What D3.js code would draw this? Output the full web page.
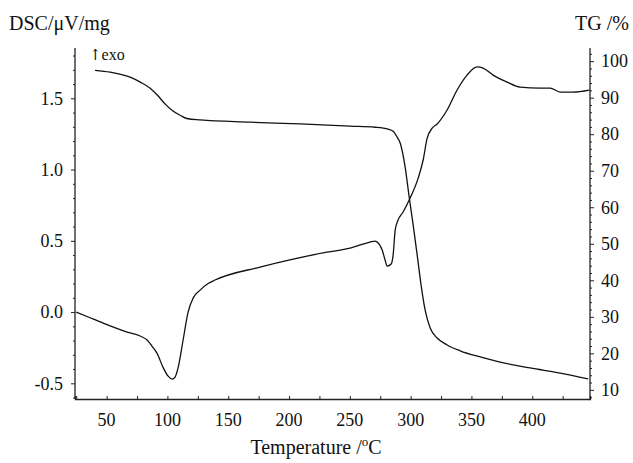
<!DOCTYPE html>
<html>
<head>
<meta charset="utf-8">
<script src="https://cdn.jsdelivr.net/npm/d3@7"></script>
<style>
  html, body { margin: 0; padding: 0; background: #fff; }
  svg { display: block; }
  text { font-family: "Liberation Serif", "Times New Roman", serif; fill: #111; }
</style>
</head>
<body>
<svg id="chart" width="633" height="463"></svg>
<script>
// DSC signal (µV/mg) against temperature (°C)
const dscTemp = [25, 36.4, 47.1, 66.9, 77.5, 83.3, 87.4, 91.5, 96.5, 100.6, 103.9, 106.3, 108.8, 112.9,
  117, 121.1, 126.9, 133.5, 139.2, 176.2, 203.4, 231.3, 250.2, 266.7, 270.8, 274.1, 276.6, 279,
  280.7, 284, 285.6, 287.3, 289.7, 293.8, 299.6, 306.2, 310.3, 313.6, 317.7, 321.8, 330, 338.2,
  346.4, 354.6, 359.6, 367.8, 379.3, 390, 406.5, 414.7, 422.9, 433.6, 447];
const dscValue = [0.0, -0.04, -0.077, -0.14, -0.168, -0.196, -0.24, -0.29, -0.39, -0.45, -0.47, -0.456, -0.39, -0.196,
  0.0, 0.098, 0.154, 0.2, 0.225, 0.316, 0.372, 0.42, 0.449, 0.491, 0.498, 0.477, 0.435, 0.365,
  0.323, 0.337, 0.4, 0.575, 0.646, 0.702, 0.8, 0.94, 1.067, 1.22, 1.29, 1.32, 1.418, 1.558,
  1.663, 1.72, 1.712, 1.663, 1.614, 1.579, 1.572, 1.572, 1.544, 1.544, 1.558];

// TG mass (%) against temperature (°C)
const tgTemp = [40.5, 52.9, 69.3, 78, 85.8, 92, 98, 104, 110.4, 116, 126.9, 168, 209.1, 250.2, 270.8,
  281.5, 285.6, 288.9, 291.4, 295.5, 298.8, 302.1, 305.4, 308.6, 311.9, 316, 321.8, 330, 340.7,
  357.2, 373.6, 398.3, 423, 446];
const tgValue = [97.5, 97.0, 95.6, 94.2, 92.6, 90.6, 88.3, 86.5, 85.2, 84.3, 83.9, 83.3, 82.8, 82.2, 81.9,
  81.4, 80.8, 79.2, 77.6, 71.0, 62.8, 55.1, 46.9, 38.7, 31.9, 27.0, 24.2, 22.3, 20.7,
  19.0, 17.6, 16.0, 14.6, 13.0];

// axis ticks
const tempTicks = [50, 100, 150, 200, 250, 300, 350, 400];
const dscTicks = [-0.5, 0.0, 0.5, 1.0, 1.5];
const tgTicks = [10, 20, 30, 40, 50, 60, 70, 80, 90, 100];

const svg = d3.select("#chart");
const plotLeft = 75, plotRight = 590, plotTop = 48, plotBottom = 399;

const x = d3.scaleLinear().domain([24, 447.5]).range([plotLeft, plotRight]);
const yDsc = d3.scaleLinear().domain([-0.61, 1.853]).range([plotBottom, plotTop]);
const yTg = d3.scaleLinear().domain([7.5, 103.6]).range([plotBottom, plotTop]);

const axisStroke = "#222";

// bottom axis: ticks point inward
const gx = svg.append("g").attr("transform", `translate(0,${plotBottom})`)
  .call(d3.axisBottom(x).tickValues(d3.range(25, 447, 25)).tickSize(-3).tickFormat(""));
gx.select(".domain").attr("stroke", axisStroke).attr("stroke-width", 1.3);
gx.selectAll(".tick line").attr("stroke", axisStroke);
gx.selectAll(".lbl").data(tempTicks).join("text")
  .attr("x", d => x(d)).attr("y", 27)
  .attr("text-anchor", "middle").attr("font-size", 18).text(d => d);

// left DSC axis
const gl = svg.append("g").attr("transform", `translate(${plotLeft},0)`)
  .call(d3.axisLeft(yDsc).tickValues(d3.range(-6, 19).map(d => d / 10)).tickSize(2).tickFormat(""));
gl.select(".domain").attr("stroke", axisStroke).attr("stroke-width", 1.3).attr("d", `M0,${plotTop}V${plotBottom}`);
gl.selectAll(".tick line").attr("stroke", axisStroke)
  .attr("x2", d => (Math.abs(d * 2 - Math.round(d * 2)) < 1e-6 ? -4 : -2));
gl.selectAll(".lbl").data(dscTicks).join("text")
  .attr("x", -12).attr("y", d => yDsc(d)).attr("dy", "0.35em")
  .attr("text-anchor", "end").attr("font-size", 18).text(d => d.toFixed(1));

// right TG axis
const gr = svg.append("g").attr("transform", `translate(${plotRight},0)`)
  .call(d3.axisRight(yTg).tickValues(d3.range(8, 104, 2)).tickSize(2).tickFormat(""));
gr.select(".domain").attr("stroke", axisStroke).attr("stroke-width", 1.3).attr("d", `M0,${plotTop}V${plotBottom}`);
gr.selectAll(".tick line").attr("stroke", axisStroke)
  .attr("x2", d => (d % 10 === 0 ? 4 : 2));
gr.selectAll(".lbl").data(tgTicks).join("text")
  .attr("x", 11).attr("y", d => yTg(d)).attr("dy", "0.35em")
  .attr("text-anchor", "start").attr("font-size", 18).text(d => d);

// curves
const dscData = dscTemp.map((t, i) => [t, dscValue[i]]);
const tgData = tgTemp.map((t, i) => [t, tgValue[i]]);

svg.append("path").datum(dscData)
  .attr("fill", "none").attr("stroke", "#111").attr("stroke-width", 1.3)
  .attr("d", d3.line().x(d => x(d[0])).y(d => yDsc(d[1])).curve(d3.curveMonotoneX));

svg.append("path").datum(tgData)
  .attr("fill", "none").attr("stroke", "#111").attr("stroke-width", 1.3)
  .attr("d", d3.line().x(d => x(d[0])).y(d => yTg(d[1])).curve(d3.curveMonotoneX));

// titles
svg.append("text").attr("x", 9).attr("y", 30).attr("font-size", 20).text("DSC/μV/mg");
svg.append("text").attr("x", 629).attr("y", 30).attr("font-size", 20)
  .attr("text-anchor", "end").text("TG /%");
const xt = svg.append("text").attr("x", 316).attr("y", 454).attr("font-size", 20)
  .attr("text-anchor", "middle");
xt.append("tspan").text("Temperature /");
xt.append("tspan").attr("font-size", 13).attr("dy", -8).text("o");
xt.append("tspan").attr("dy", 8).text("C");

// exothermic direction marker
const exo = svg.append("text").attr("x", 89).attr("y", 60).attr("font-size", 16);
exo.append("tspan").attr("font-family", "DejaVu Serif").attr("font-size", 15).text("↑");
exo.append("tspan").text("exo");
</script>
</body>
</html>
